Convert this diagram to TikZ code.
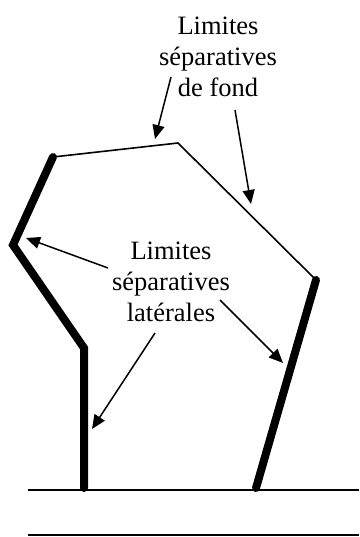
\documentclass[tikz,border=0pt]{standalone}
\usepackage{fontspec}
\setmainfont{Liberation Serif}
\usetikzlibrary{arrows.meta}

\begin{document}
\begin{tikzpicture}[
  x=1pt, y=-1pt,
  lbl/.style={align=center, font=\fontsize{26.5}{31}\selectfont, inner sep=0pt},
  wall/.style={line width=8pt, line cap=round, line join=miter},
  fond/.style={line width=1.6pt, line join=miter},
  ground/.style={line width=1.5pt},
  arr/.style={-{Triangle[length=14pt,width=12pt]}, line width=1.5pt}
]
\useasboundingbox (0,0) rectangle (359,537);

% corners of the parcel
\coordinate (nw) at (53,157);
\coordinate (n) at (178,143);
\coordinate (ne) at (316,280);
\coordinate (w) at (13,245);
\coordinate (sw1) at (84,348);
\coordinate (sw2) at (84,488);
\coordinate (se) at (256,488);

% road
\coordinate (r1) at (28,490);
\coordinate (r2) at (359,490);
\coordinate (r3) at (28,535);
\coordinate (r4) at (359,535);
\draw[ground] (r1) -- (r2);
\draw[ground] (r3) -- (r4);

\draw[fond] (nw) -- (n) -- (ne);
\draw[wall] (nw) -- (w) -- (sw1) -- (sw2);
\draw[wall] (ne) -- (se);

\node[lbl] (fondlbl) at (218,57) {Limites\\séparatives\\de fond};
\node[lbl] (latlbl) at (171,282) {Limites\\séparatives\\latérales};

% arrow ends
\coordinate (t1) at (171,77);
\coordinate (h1) at (155,139);
\coordinate (t2) at (235,110);
\coordinate (h2) at (251,204);
\coordinate (t3) at (108,268);
\coordinate (h3) at (26,238);
\coordinate (t4) at (220,300);
\coordinate (h4) at (283,363);
\coordinate (t5) at (155,333);
\coordinate (h5) at (92,429);

\draw[arr] (t1) -- (h1);
\draw[arr] (t2) -- (h2);
\draw[arr] (t3) -- (h3);
\draw[arr] (t4) -- (h4);
\draw[arr] (t5) -- (h5);
\end{tikzpicture}
\end{document}
